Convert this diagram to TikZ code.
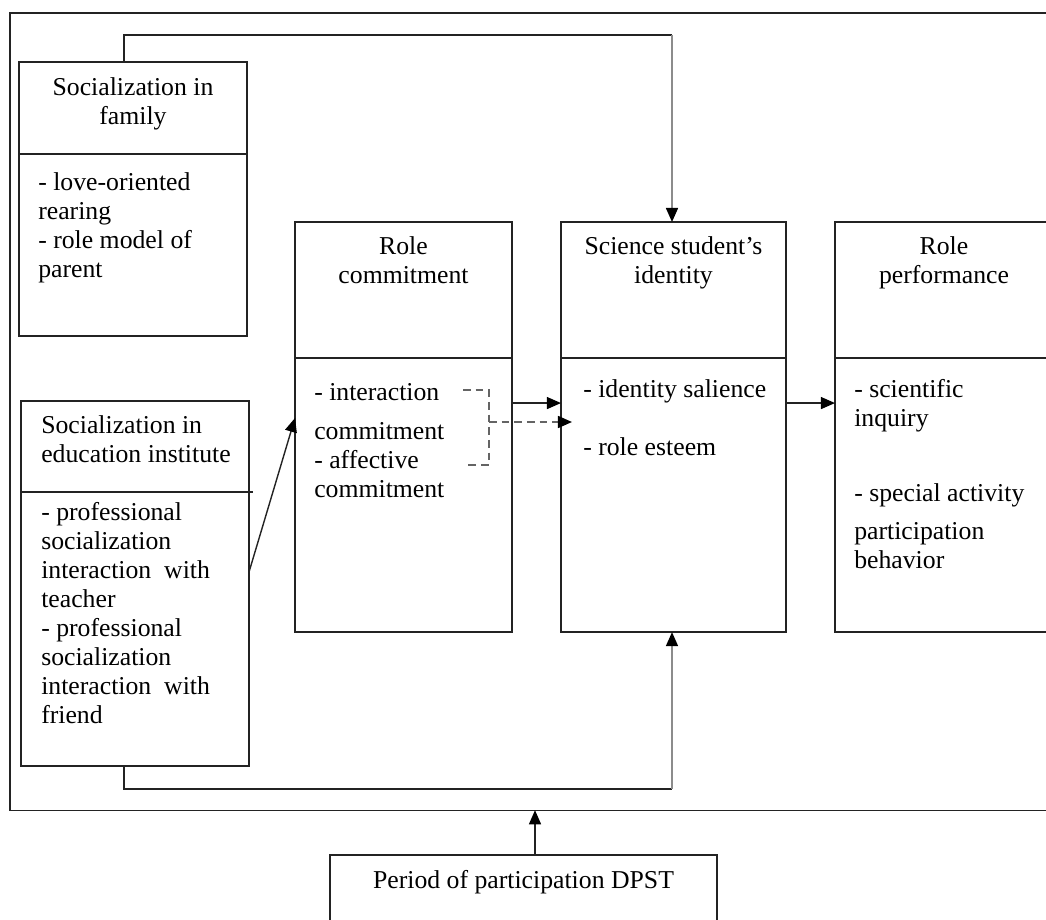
\documentclass[tikz,border=0pt]{standalone}
\usepackage{fontspec}
\setmainfont{Liberation Serif}
\usetikzlibrary{arrows.meta,positioning}
\definecolor{linegray}{RGB}{35,35,35}
\definecolor{linkgray}{RGB}{140,140,140}
\definecolor{dashgray}{RGB}{100,100,100}

\begin{document}
\begin{tikzpicture}[
    x=0.025cm, y=-0.025cm,
    >={Triangle[length=10pt, width=8.5pt, black]},
    box/.style={draw=linegray, line width=1pt, inner sep=0pt, outer sep=0pt},
    hdtext/.style={font=\fontsize{18.3}{20.6}\selectfont, align=center, anchor=base, inner sep=0pt},
    bodytext/.style={font=\fontsize{18.3}{20.6}\selectfont, align=left, anchor=base west, inner sep=0pt},
    link/.style={linegray, line width=1pt},
    graylink/.style={linkgray, line width=1.3pt},
    dashlink/.style={dashgray, line width=1.3pt, dash pattern=on 5.5pt off 3.5pt}
]

% Page area (right and bottom edges are cut off)
\useasboundingbox (0,0) rectangle (1046,920);
\clip (0,0) rectangle (1046,920);

% Outer frame
\node[box, anchor=north west, minimum width=26.3cm, minimum height=19.925cm] (frame) at (10,13) {};

% Text nodes sit on the baseline of their last line

% 1. SOCIALIZATION IN FAMILY
\node[box, anchor=north west, minimum width=5.7cm, minimum height=2.3cm] (famhd) at (19,62) {};
\node[box, below=0pt of famhd, minimum width=5.7cm, minimum height=4.55cm] (fambd) {};
\node[hdtext] (famtitle) at (133,124) {Socialization in\\family};
\node[bodytext] (famitems) at (38,277) {- love-oriented\\rearing\\- role model of\\parent};

% 2. SOCIALIZATION IN EDUCATION INSTITUTE
\node[box, anchor=north west, minimum width=5.7cm, minimum height=2.275cm] (eduhd) at (21,401) {};
\node[box, below=0pt of eduhd, minimum width=5.7cm, minimum height=6.85cm] (edubd) {};
\draw[link] (eduhd.south east) -- ++(4,0);
\node[bodytext] (edutitle) at (41,462) {Socialization in\\education institute};
\node[bodytext] (eduitems) at (41,723) {- professional\\socialization\\interaction\ \ with\\teacher\\- professional\\socialization\\interaction\ \ with\\friend};

% 3. ROLE COMMITMENT
\node[box, anchor=north west, minimum width=5.425cm, minimum height=3.4cm] (rchd) at (295,222) {};
\node[box, below=0pt of rchd, minimum width=5.425cm, minimum height=6.85cm] (rcbd) {};
\node[hdtext] (rctitle) at (403.5,283) {Role\\commitment};
\node[bodytext] (rcitems) at (314,497) {- interaction\\[6.5pt]commitment\\- affective\\commitment};

% 4. SCIENCE STUDENT'S IDENTITY
\node[box, anchor=north west, minimum width=5.625cm, minimum height=3.4cm] (scihd) at (561,222) {};
\node[box, below=0pt of scihd, minimum width=5.625cm, minimum height=6.85cm] (scibd) {};
\node[hdtext] (scititle) at (673.5,283) {Science student’s\\identity};
\node[bodytext] (sciitems) at (583,455) {- identity salience\\[20.6pt]- role esteem};

% 5. ROLE PERFORMANCE
\node[box, anchor=north west, minimum width=5.45cm, minimum height=3.4cm] (rphd) at (835,222) {};
\node[box, below=0pt of rphd, minimum width=5.45cm, minimum height=6.85cm] (rpbd) {};
\node[hdtext] (rptitle) at (944,283) {Role\\performance};
\node[bodytext] (rpitems) at (854,568) {- scientific\\inquiry\\[32.7pt]- special activity\\[6.4pt]participation\\behavior};

% 6. PERIOD OF PARTICIPATION
\node[box, anchor=north west, minimum width=9.675cm, minimum height=2.625cm] (dpst) at (330,855) {};
\node[hdtext] (dpsttitle) at (523.5,888) {Period of participation DPST};

% CONNECTORS
% Family -> identity (over the top)
\coordinate (famout) at (124,62);
\coordinate (topbend) at (672,35);
\draw[link] (famout) |- (topbend);
\draw[graylink, ->] (topbend) -- (topbend |- scihd.north);

% Education -> identity (under the bottom)
\coordinate (eduout) at (124,766);
\coordinate (botbend) at (672,789);
\draw[link] (eduout) |- (botbend);
\draw[graylink, ->] (botbend) -- (botbend |- scibd.south);

% Education -> role commitment
\coordinate (edutip) at (249,572);
\coordinate (rcin) at (295,418);
\draw[link, ->] (edutip) -- (rcin);

% Commitment -> identity -> performance
\draw[link, ->] ([yshift=2.3cm]rcbd.east) -- ([yshift=2.3cm]scibd.west);
\draw[link, ->] ([yshift=2.3cm]scibd.east) -- ([yshift=2.3cm]rpbd.west);

% Dashed bracket on commitment items
\draw[dashlink] (463,390) -- (489,390) -- (489,465) -- (465,465);
\draw[dashlink, ->] (489,422) -- (572,422);

% Period -> whole frame
\coordinate (dpstout) at (535,855);
\draw[link, ->] (dpstout) -- (dpstout |- frame.south);

\end{tikzpicture}
\end{document}
